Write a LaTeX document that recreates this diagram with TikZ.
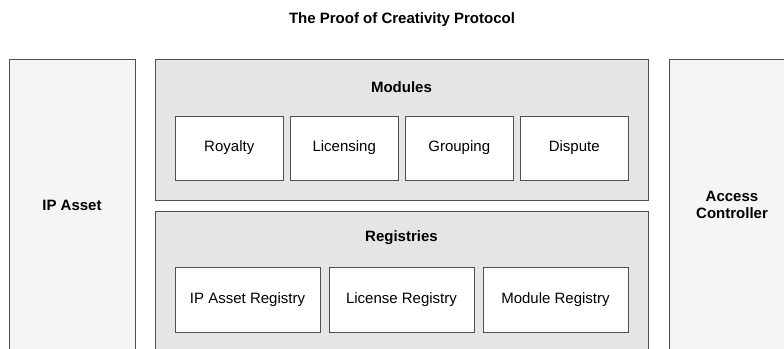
\documentclass[tikz,border=0pt]{standalone}
\usepackage{fontspec}
\setmainfont{Liberation Sans}
\usetikzlibrary{positioning}

\definecolor{edgegray}{HTML}{505050}
\definecolor{sidefill}{HTML}{F5F5F5}
\definecolor{groupfill}{HTML}{E5E5E5}

\begin{document}
\begin{tikzpicture}[x=1pt, y=-1pt,
  every node/.style={font=\fontsize{15}{17}\selectfont, inner sep=0pt, outer sep=0pt},
  side/.style={draw=edgegray, fill=sidefill, line width=0.9pt, minimum width=126pt, minimum height=292pt, align=center, font=\fontsize{15}{17}\selectfont\bfseries},
  group/.style={draw=edgegray, fill=groupfill, line width=0.9pt, minimum width=493pt, minimum height=141pt},
  heading/.style={font=\fontsize{15}{17}\selectfont\bfseries},
  module/.style={draw=edgegray, fill=white, line width=0.9pt, minimum width=108.5pt, minimum height=64pt},
  registry/.style={draw=edgegray, fill=white, line width=0.9pt, minimum width=145pt, minimum height=65pt}
]
\useasboundingbox[fill=white] (0,0) rectangle (784,348);

% title
\node[heading] (title) at (402,20) {The Proof of Creativity Protocol};

% side columns
\node[side, anchor=north west] (ipasset) at (9,59) {IP Asset};
\node[side, anchor=north west] (access) at (669,59) {Access\\Controller};

% modules
\node[group, anchor=north west] (modules) at (155,59) {};
\node[heading] (modtitle) at (401.5,87) {Modules};
\node[module, anchor=north west] (royalty) at (175,116) {Royalty};
\node[module, right=6.5pt of royalty] (licensing) {Licensing};
\node[module, right=6.5pt of licensing] (grouping) {Grouping};
\node[module, right=6.5pt of grouping] (dispute) {Dispute};

% registries
\node[group, anchor=north west, minimum height=140pt] (registries) at (155,211) {};
\node[heading] (regtitle) at (401.5,238) {Registries};
\node[registry, anchor=north west] (ipreg) at (175,267) {IP Asset Registry};
\node[registry, right=9pt of ipreg] (licreg) {License Registry};
\node[registry, right=9pt of licreg] (modreg) {Module Registry};
\end{tikzpicture}
\end{document}
